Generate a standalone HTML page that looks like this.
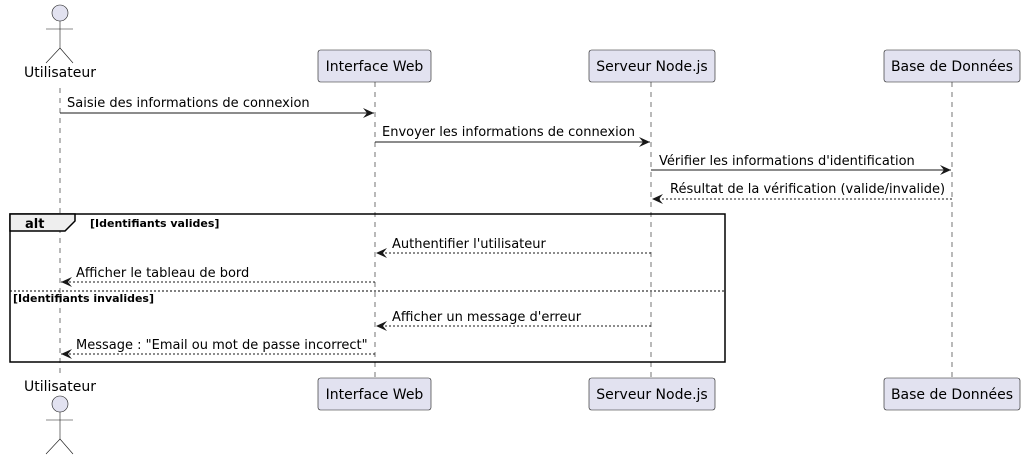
<!DOCTYPE html>
<html><head><meta charset="utf-8"><style>body{margin:0;background:#fff}svg{display:block}</style></head><body>
<svg width="1025" height="460" xmlns="http://www.w3.org/2000/svg" font-family="'DejaVu Sans','Liberation Sans',sans-serif">
<defs>
<marker id="a" markerWidth="12" markerHeight="10" refX="11" refY="5" orient="auto" markerUnits="userSpaceOnUse"><path d="M0,0 L11,5 L0,10 L4,5 Z" fill="#181818"/></marker>
</defs>
<g stroke="#181818" stroke-width="0.6" stroke-dasharray="5,5">
<line x1="60" y1="88" x2="60" y2="378"/><line x1="375" y1="82" x2="375" y2="378"/><line x1="651" y1="82" x2="651" y2="378"/><line x1="952" y1="82" x2="952" y2="378"/>
</g>
<!-- actors -->
<g fill="#E2E2F0" stroke="#181818" stroke-width="0.6">
<circle cx="60" cy="13" r="8"/><line x1="60" y1="21" x2="60" y2="48"/><line x1="46" y1="29" x2="73" y2="29"/><line x1="60" y1="48" x2="46" y2="63"/><line x1="60" y1="48" x2="73" y2="63"/>
<circle cx="60" cy="404" r="8"/><line x1="60" y1="412" x2="60" y2="439"/><line x1="46" y1="420" x2="73" y2="420"/><line x1="60" y1="439" x2="46" y2="454"/><line x1="60" y1="439" x2="73" y2="454"/>
<rect x="318" y="50" width="113" height="32" rx="2.5"/><rect x="589" y="50" width="126" height="32" rx="2.5"/><rect x="884" y="50" width="136" height="32" rx="2.5"/>
<rect x="318" y="378" width="113" height="32" rx="2.5"/><rect x="589" y="378" width="126" height="32" rx="2.5"/><rect x="884" y="378" width="136" height="32" rx="2.5"/>
</g>
<g font-size="14" fill="#000" text-anchor="middle">
<text x="60" y="77">Utilisateur</text><text x="60" y="391">Utilisateur</text>
<text x="374.5" y="71">Interface Web</text><text x="652" y="71">Serveur Node.js</text><text x="952" y="71">Base de Données</text>
<text x="374.5" y="399">Interface Web</text><text x="652" y="399">Serveur Node.js</text><text x="952" y="399">Base de Données</text>
</g>
<!-- alt -->
<rect x="10" y="214" width="715" height="148" fill="none" stroke="#000" stroke-width="1.5"/>
<path d="M10,214 L75,214 L75,221 L65,231 L10,231 Z" fill="#EEEEEE" stroke="#000" stroke-width="1.5"/>
<text x="25" y="228" font-size="13" font-weight="bold">alt</text>
<text x="90" y="227" font-size="11" font-weight="bold">[Identifiants valides]</text>
<line x1="10" y1="291" x2="725" y2="291" stroke="#000" stroke-width="1" stroke-dasharray="2,2"/>
<text x="13" y="302" font-size="11" font-weight="bold">[Identifiants invalides]</text>
<!-- messages -->
<g stroke="#181818" stroke-width="1" marker-end="url(#a)">
<line x1="60" y1="113" x2="374" y2="113"/>
<line x1="375" y1="142" x2="650" y2="142"/>
<line x1="651" y1="170" x2="951" y2="170"/>
<line x1="952" y1="199" x2="652" y2="199" stroke-dasharray="2,2"/>
<line x1="651" y1="253" x2="376" y2="253" stroke-dasharray="2,2"/>
<line x1="375" y1="282" x2="61" y2="282" stroke-dasharray="2,2"/>
<line x1="651" y1="326" x2="376" y2="326" stroke-dasharray="2,2"/>
<line x1="375" y1="354" x2="61" y2="354" stroke-dasharray="2,2"/>
</g>
<g font-size="13" fill="#000">
<text x="67" y="107">Saisie des informations de connexion</text>
<text x="382" y="136">Envoyer les informations de connexion</text>
<text x="659" y="165">Vérifier les informations d'identification</text>
<text x="670" y="193">Résultat de la vérification (valide/invalide)</text>
<text x="392" y="248">Authentifier l'utilisateur</text>
<text x="76" y="277">Afficher le tableau de bord</text>
<text x="392" y="321">Afficher un message d'erreur</text>
<text x="76" y="349">Message : "Email ou mot de passe incorrect"</text>
</g>
</svg>
</body></html>
